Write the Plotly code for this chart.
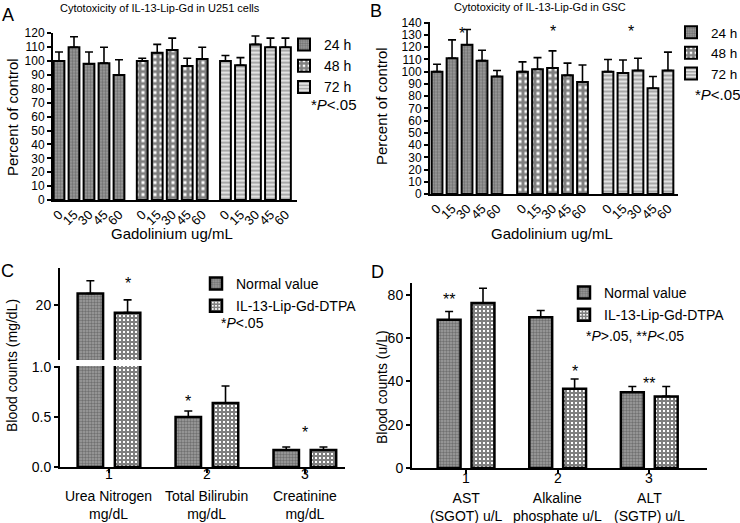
import plotly.graph_objects as go

W, H = 740, 523
FONT = "Arial, Liberation Sans, sans-serif"

doses = ["0", "15", "30", "45", "60"]
times = ["24 h", "48 h", "72 h"]

# A: U251 cells, percent of control
u251_24h = [100, 110, 98, 98.5, 90]
u251_24h_err = [6.5, 7.5, 8.5, 11.5, 11]
u251_48h = [100, 106, 108, 96.5, 101.5]
u251_48h_err = [2, 6, 8.5, 5.5, 8.5]
u251_72h = [100, 97, 112, 110, 110]
u251_72h_err = [4, 5.5, 6, 6.5, 6.5]

# B: GSC, percent of control
gsc_24h = [100, 111, 122, 109, 96]
gsc_24h_err = [6, 15, 12.5, 8.5, 5]
gsc_48h = [100, 102, 103, 97, 91.5]
gsc_48h_err = [8, 9.5, 14, 10, 14]
gsc_72h = [100, 99, 101, 86.5, 101]
gsc_72h_err = [10, 10.5, 10, 9.5, 15]

# C: blood counts mg/dL
kidney_tests = ["Urea Nitrogen<br>mg/dL", "Total Bilirubin<br>mg/dL", "Creatinine<br>mg/dL"]
kidney_normal = [21.3, 0.5, 0.17]
kidney_normal_err = [1.4, 0.06, 0.03]
kidney_il13 = [19.2, 0.64, 0.17]
kidney_il13_err = [1.4, 0.17, 0.03]

# D: blood counts u/L
liver_tests = ["AST<br>(SGOT) u/L", "Alkaline<br>phosphate u/L", "ALT<br>(SGTP) u/L"]
liver_normal = [68.5, 69.7, 35]
liver_normal_err = [3.8, 3.1, 2.7]
liver_il13 = [76.2, 36.6, 33.1]
liver_il13_err = [6.9, 4.5, 4.6]

series_names = ["Normal value", "IL-13-Lip-Gd-DTPA"]

# fills
pat = {
    "grey": dict(shape=".", fgcolor="#404040", bgcolor="#a0a0a0", size=3, solidity=0.5),
    "check": dict(shape="+", fgcolor="black", bgcolor="white", size=6, solidity=0.75),
    "fine": dict(shape="+", fgcolor="black", bgcolor="white", size=4, solidity=0.75),
    "lines": dict(shape="-", fgcolor="#3a3a3a", bgcolor="#e2e2e2", size=4, solidity=0.35),
}
time_pat = [pat["grey"], pat["check"], pat["lines"]]


def px_x(p):
    return p / W


def px_y(p):
    return 1 - p / H


def err(vals):
    return dict(type="data", array=vals, arrayminus=[0] * len(vals), symmetric=False,
                color="black", thickness=1.6, width=4)


fig = go.Figure()

# A and B: three groups of five doses
def dose_panel(series, errs, gap, xa, ya, legend):
    for g, (vals, e) in enumerate(zip(series, errs)):
        xs = [g * (5 + gap) + i for i in range(len(doses))]
        fig.add_trace(go.Bar(
            x=xs, y=vals, name=times[g], width=0.72, offset=-0.36,
            marker=dict(color=time_pat[g]["bgcolor"], pattern=time_pat[g],
                        line=dict(color="black", width=2)),
            error_y=err(e), xaxis=xa, yaxis=ya, legend=legend))
    return [g * (5 + gap) + i for g in range(3) for i in range(len(doses))]


ticks_a = dose_panel([u251_24h, u251_48h, u251_72h],
                     [u251_24h_err, u251_48h_err, u251_72h_err], 0.55, "x", "y", "legend")
ticks_b = dose_panel([gsc_24h, gsc_48h, gsc_72h],
                     [gsc_24h_err, gsc_48h_err, gsc_72h_err], 0.7, "x2", "y2", "legend2")

# C: broken axis, draw on lower and upper segments
cx = [1, 2, 3]
for k, (vals, e, p, off) in enumerate([(kidney_normal, kidney_normal_err, pat["grey"], -0.32),
                                        (kidney_il13, kidney_il13_err, pat["fine"], 0.06)]):
    for ya in ["y3", "y5"]:
        fig.add_trace(go.Bar(
            x=cx, y=vals, name=series_names[k], width=0.26, offset=off,
            marker=dict(color=p["bgcolor"], pattern=p, line=dict(color="black", width=2.5)),
            error_y=err(e), xaxis="x3", yaxis=ya, legend="legend3",
            showlegend=(ya == "y3"), legendgroup=series_names[k]))

# D
for k, (vals, e, p, off) in enumerate([(liver_normal, liver_normal_err, pat["grey"], -0.31),
                                        (liver_il13, liver_il13_err, pat["fine"], 0.06)]):
    fig.add_trace(go.Bar(
        x=cx, y=vals, name=series_names[k], width=0.25, offset=off,
        marker=dict(color=p["bgcolor"], pattern=p, line=dict(color="black", width=2.5)),
        error_y=err(e), xaxis="x4", yaxis="y4", legend="legend4", legendgroup=series_names[k]))

ax = dict(showline=True, linecolor="black", linewidth=2, ticks="outside", ticklen=4,
          tickwidth=2, tickcolor="black", showgrid=False, zeroline=False,
          tickfont=dict(size=12, color="black"))

fig.update_layout(
    width=W, height=H, margin=dict(l=0, r=0, t=0, b=0, autoexpand=False),
    paper_bgcolor="white", plot_bgcolor="white",
    font=dict(family=FONT, color="black"),
    barmode="overlay",
    xaxis=dict(ax, domain=[px_x(53), px_x(297)], range=[-0.4, 15.87], anchor="y",
               tickvals=ticks_a, ticktext=doses * 3, tickangle=-45, ticks="",
               tickfont=dict(size=13)),
    yaxis=dict(ax, domain=[px_y(200), px_y(32.6)], range=[0, 120.5], anchor="x",
               dtick=10),
    xaxis2=dict(ax, domain=[px_x(430), px_x(678)], range=[-0.47, 16.07], anchor="y2",
                tickvals=ticks_b, ticktext=doses * 3, tickangle=-45, ticks="",
                tickfont=dict(size=13)),
    yaxis2=dict(ax, domain=[px_y(194), px_y(21.5)], range=[0, 141], anchor="x2",
                dtick=10),
    xaxis3=dict(ax, domain=[px_x(60), px_x(345)], range=[0.5, 3.41], anchor="y3",
                tickvals=cx, showticklabels=False),
    yaxis3=dict(ax, domain=[px_y(467), px_y(366)], range=[0, 1.01], anchor="x3",
                tickvals=[0, 0.5, 1.0], ticktext=["0.0", "0.5", "1.0"],
                tickfont=dict(size=14)),
    yaxis5=dict(ax, domain=[px_y(360), px_y(268)], range=[14, 24.1], anchor="x3",
                tickvals=[20], tickfont=dict(size=14)),
    xaxis4=dict(ax, domain=[px_x(412), px_x(707)], range=[0.41, 3.63], anchor="y4",
                tickvals=cx, showticklabels=False),
    yaxis4=dict(ax, domain=[px_y(468), px_y(283)], range=[0, 85.5], anchor="x4",
                dtick=20, tickfont=dict(size=14)),
)

leg = dict(bgcolor="rgba(0,0,0,0)", xanchor="left", yanchor="top", tracegroupgap=0,
           itemclick=False)
fig.update_layout(
    legend=dict(leg, x=px_x(284), y=px_y(29), font=dict(size=14)),
    legend2=dict(leg, x=px_x(671), y=px_y(17), font=dict(size=13.5)),
    legend3=dict(leg, x=px_x(196), y=px_y(268), font=dict(size=14), tracegroupgap=1),
    legend4=dict(leg, x=px_x(564), y=px_y(277), font=dict(size=14), tracegroupgap=1),
)

notes = []


def note(text, x, y, size, xanchor="center", **kw):
    notes.append(dict(text=text, x=px_x(x), y=px_y(y), xref="paper", yref="paper",
                      xanchor=xanchor, yanchor="middle",
                      showarrow=False, font=dict(size=size), **kw))


note("A", 8, 15, 18)
note("B", 376, 11, 18)
note("C", 7, 271, 18)
note("D", 377, 272, 18)
note("Cytotoxicity of IL-13-Lip-Gd in U251 cells", 160, 8, 11)
note("Cytotoxicity of IL-13-Lip-Gd in GSC", 540, 7, 11)
note("Gadolinium ug/mL", 172, 233, 15)
note("Gadolinium ug/mL", 552, 233, 15)
note("Percent of control", 12, 117, 15, textangle=-90)
note("Percent of control", 382, 106, 15, textangle=-90)
note("Blood counts (mg/dL)", 12, 366, 14, textangle=-90)
note("Blood counts (u/L)", 382, 387, 14, textangle=-90)
note("*<i>P</i>&lt;.05", 309, 104, 15, xanchor="left")
note("*<i>P</i>&lt;.05", 693, 95, 15, xanchor="left")
note("*<i>P</i>&lt;.05", 219, 323, 14, xanchor="left")
note("*<i>P</i>&gt;.05, **<i>P</i>&lt;.05", 584, 336, 14, xanchor="left")

# category numbers and labels under C and D
for i, t in enumerate(kidney_tests):
    notes.append(dict(text=str(cx[i]), x=cx[i], y=px_y(474), xref="x3", yref="paper",
                      xanchor="center", yanchor="middle", showarrow=False, font=dict(size=14)))
    notes.append(dict(text=t, x=cx[i], y=px_y(486), xref="x3", yref="paper",
                      xanchor="center", yanchor="top", showarrow=False, font=dict(size=14)))
for i, t in enumerate(liver_tests):
    notes.append(dict(text=str(cx[i]), x=cx[i], y=px_y(478), xref="x4", yref="paper",
                      xanchor="center", yanchor="middle", showarrow=False, font=dict(size=14)))
    notes.append(dict(text=t, x=cx[i], y=px_y(488), xref="x4", yref="paper",
                      xanchor="center", yanchor="top", showarrow=False, font=dict(size=14)))


def star(text, x, y, xr, yr):
    notes.append(dict(text=text, x=x, y=y, xref=xr, yref=yr, showarrow=False,
                      xanchor="center", yanchor="middle", font=dict(size=16)))


for g in range(3):
    star("*", ticks_a[g * 5 + 2], 124, "x", "y")
star("*", ticks_b[2] - 0.35, 131, "x2", "y2")
star("*", ticks_b[7], 132.5, "x2", "y2")
star("*", ticks_b[12] - 0.47, 132.5, "x2", "y2")
star("*", 1.19, 22.4, "x3", "y5")
star("*", 1.81, 0.66, "x3", "y3")
star("*", 3.0, 0.35, "x3", "y3")
star("**", 0.815, 78, "x4", "y4")
star("*", 2.185, 44.5, "x4", "y4")
star("**", 3.0, 39, "x4", "y4")

fig.update_layout(annotations=notes)
# drop the page's default body margin so the figure sits at the window corner
fig.write_html("out.html", config={"displayModeBar": False},
               post_script="document.body.style.margin='0';document.body.style.overflow='hidden';")
